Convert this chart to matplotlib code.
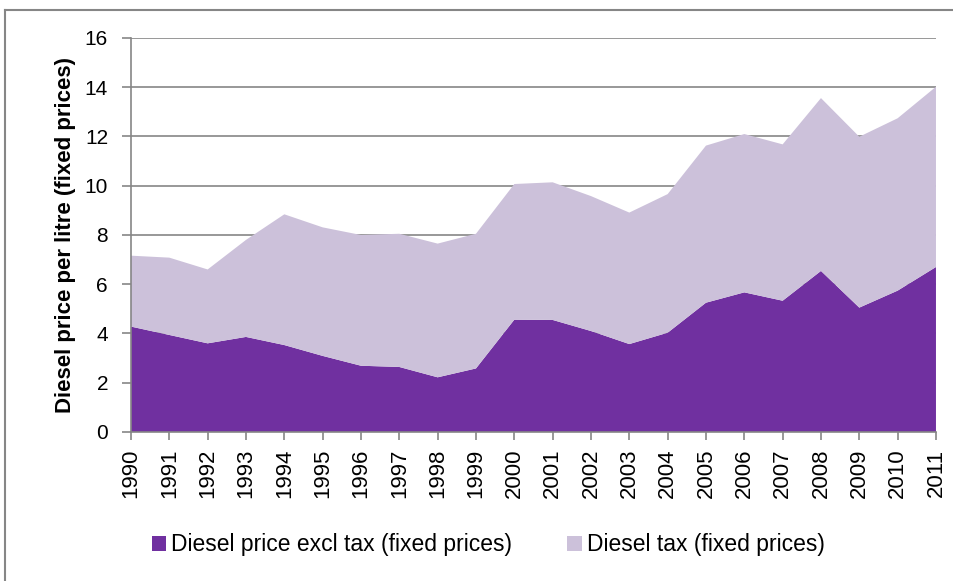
import numpy as np
import matplotlib.pyplot as plt
from matplotlib.lines import Line2D

years = list(range(1990, 2012))
price_excl_tax = [4.28, 3.94, 3.60, 3.86, 3.53, 3.09, 2.69, 2.64, 2.22, 2.58, 4.56,
                  4.55, 4.10, 3.57, 4.03, 5.25, 5.67, 5.33, 6.54, 5.05, 5.74, 6.70]
total_price = [7.16, 7.08, 6.60, 7.80, 8.84, 8.31, 8.00, 8.05, 7.65, 8.05, 10.07,
               10.14, 9.58, 8.91, 9.66, 11.63, 12.10, 11.68, 13.56, 11.99, 12.74, 14.02]
diesel_tax = [t - p for t, p in zip(total_price, price_excl_tax)]

labels = ["Diesel price excl tax (fixed prices)", "Diesel tax (fixed prices)"]
colors = ["#7030A0", "#CCC1DA"]

plt.rcParams['font.family'] = ['Liberation Sans', 'DejaVu Sans']

fig = plt.figure(figsize=(9.54, 5.81), dpi=100)
ax = fig.add_axes([0.1373, 0.2565, 0.8438, 0.6781])

ax.stackplot(years, price_excl_tax, diesel_tax, colors=colors, labels=labels, zorder=2)

ax.set_xlim(1990, 2011)
ax.set_ylim(0, 16)
ax.set_yticks(range(0, 17, 2))
ax.set_xticks(years)
ax.set_xticklabels([str(y) for y in years], rotation=90, fontsize=16)
ax.tick_params(axis='y', labelsize=15, length=6.5, pad=10, color='#868686', width=1.2)
ax.tick_params(axis='x', length=6, pad=6, color='#868686', width=1.2)
ax.grid(axis='y', color='#868686', linewidth=1.2, zorder=1)
ax.set_axisbelow(True)
for s in ['top', 'right']:
    ax.spines[s].set_visible(False)
for s in ['left', 'bottom']:
    ax.spines[s].set_color('#868686')
    ax.spines[s].set_linewidth(1.2)

ax.set_ylabel("Diesel price per litre (fixed prices)", fontsize=16, fontweight='bold', labelpad=6)

fig.legend(loc='center left', bbox_to_anchor=(0.1468, 0.062), ncol=2, frameon=False,
           fontsize=16.5, handlelength=0.65, handleheight=0.65, handletextpad=0.22,
           columnspacing=2.4, borderpad=0)

# chart-area frame: only the left and top edges show in the original crop
bx, by = 5.5 / 954, 1 - 9.5 / 581
fig.lines.append(Line2D([bx, bx], [0, by], transform=fig.transFigure,
                        color='#868686', linewidth=1.5))
fig.lines.append(Line2D([bx, 1], [by, by], transform=fig.transFigure,
                        color='#868686', linewidth=1.5))

fig.savefig("out.png", dpi=100)
